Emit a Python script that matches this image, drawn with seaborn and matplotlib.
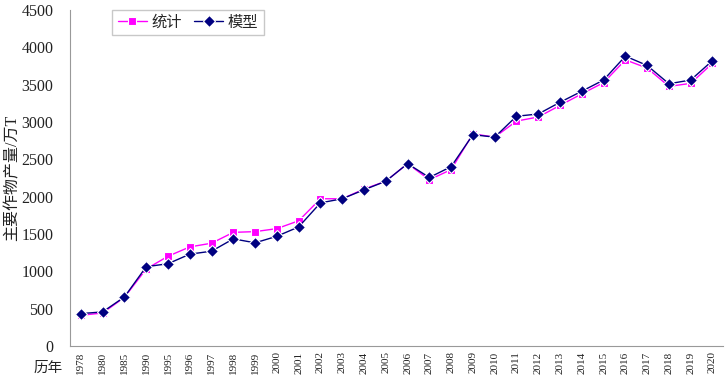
import pandas as pd
import seaborn as sns
import matplotlib.pyplot as plt
from matplotlib.ticker import FixedLocator, NullLocator

# 数据
years = ["1978", "1980", "1985", "1990", "1995", "1996", "1997", "1998", "1999", "2000",
         "2001", "2002", "2003", "2004", "2005", "2006", "2007", "2008", "2009", "2010",
         "2011", "2012", "2013", "2014", "2015", "2016", "2017", "2018", "2019", "2020"]
stat_vals = [410, 440, 650, 1030, 1200, 1325, 1375, 1520, 1530, 1570,
             1675, 1970, 1970, 2100, 2205, 2440, 2225, 2360, 2840, 2795,
             3010, 3065, 3220, 3375, 3525, 3830, 3720, 3475, 3515, 3785]
model_vals = [432, 455, 655, 1060, 1100, 1228, 1268, 1433, 1380, 1468,
              1593, 1915, 1970, 2090, 2205, 2440, 2255, 2400, 2828, 2795,
              3075, 3105, 3262, 3410, 3560, 3880, 3755, 3510, 3560, 3820]
series_names = ["统计", "模型"]
y_ticks = list(range(0, 4501, 500))

df = pd.DataFrame({
    "year": years * 2,
    "value": stat_vals + model_vals,
    "series": [series_names[0]] * len(years) + [series_names[1]] * len(years),
})

sns.set_style("white")
plt.rcParams["font.family"] = ["Liberation Serif", "Noto Sans CJK SC", "DejaVu Sans"]

fig = plt.figure(figsize=(7.26, 3.78), dpi=100)
ax = fig.add_axes([0.0964, 0.085, 0.9, 0.889])

sns.lineplot(data=df, x="year", y="value", hue="series", style="series",
             hue_order=series_names, style_order=series_names,
             palette={"统计": "#FF00FF", "模型": "#000080"},
             markers={"统计": "s", "模型": "D"}, dashes=False,
             markersize=6, linewidth=1.0, markeredgewidth=0.8,
             sort=False, ax=ax)

ax.set_ylim(0, 4500)
ax.set_xlim(-0.5, len(years) - 0.5)
ax.set_yticks(y_ticks)
ax.yaxis.set_minor_locator(NullLocator())
ax.tick_params(axis="y", labelsize=11.5, length=0, pad=12, labelcolor="#222222")
ax.tick_params(axis="x", which="major", labelsize=8, rotation=90, length=0, pad=4,
               labelcolor="#222222")
ax.xaxis.set_minor_locator(FixedLocator([i + 0.5 for i in range(len(years) - 1)]))
ax.tick_params(axis="x", which="minor", length=3, color="#999999", direction="out")
ax.set_xlabel("")
ax.set_ylabel("主要作物产量/万T", fontsize=11.5, labelpad=2, color="#222222")
ax.yaxis.set_label_coords(-0.076, 0.5)

for s in ["top", "right"]:
    ax.spines[s].set_visible(False)
for s in ["left", "bottom"]:
    ax.spines[s].set_color("#999999")
    ax.spines[s].set_linewidth(0.8)

fig.text(0.066, 0.008, "历年", fontsize=10.5, ha="center", va="bottom", color="#222222")

handles, labels = ax.get_legend_handles_labels()
ax.legend(handles, labels, ncol=2, loc="upper left", bbox_to_anchor=(0.065, 1.0),
          borderaxespad=0, fontsize=11, frameon=True, fancybox=False,
          edgecolor="#BBBBBB", handlelength=1.9, columnspacing=0.8,
          handletextpad=0.3, borderpad=0.35)

plt.savefig("out.png", dpi=100)
